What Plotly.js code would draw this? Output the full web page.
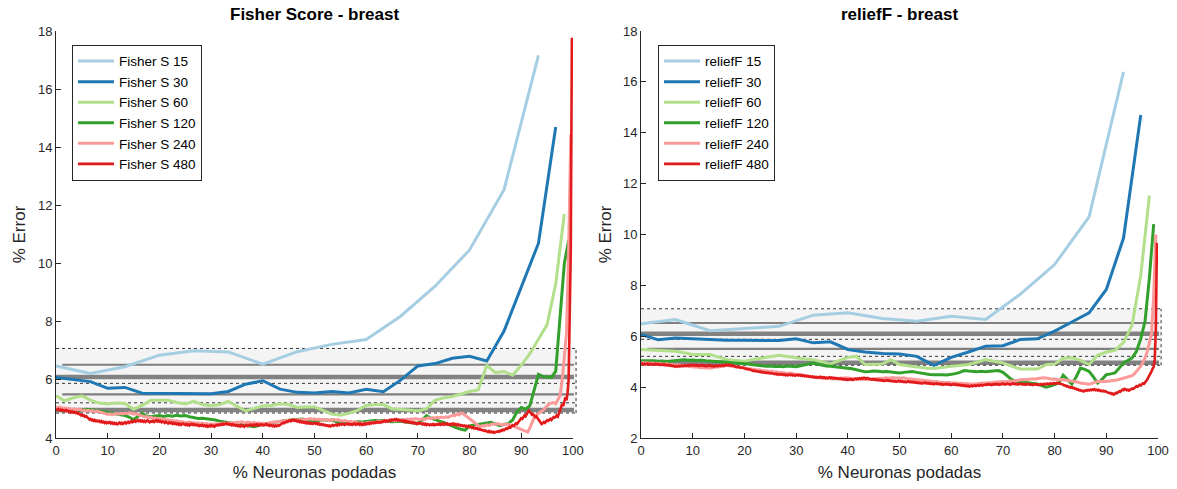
<!DOCTYPE html>
<html><head><meta charset="utf-8">
<script src="https://cdn.plot.ly/plotly-3.0.1.min.js"></script>
<style>html,body{margin:0;padding:0;background:#fff}#chart{width:1177px;height:489px}</style>
</head><body><div id="chart"></div>
<script>
// ---------- data: Fisher Score ----------
const fisher15 = [6.48,6.22,6.45,6.85,7.00,6.96,6.54,6.97,7.22,7.39,8.19,9.22,10.47,12.54,17.16];
const fisher30 = [6.08,6.01,5.94,5.71,5.74,5.54,5.53,5.52,5.52,5.52,5.60,5.85,5.97,5.68,5.57,5.55,5.60,5.55,5.68,5.59,5.99,6.48,6.56,6.74,6.81,6.65,7.68,9.20,10.70,14.70];
const fisher60 = [5.45,5.28,5.38,5.45,5.30,5.20,5.17,5.20,5.19,4.99,
 5.12,5.30,5.30,5.30,5.22,5.17,5.26,5.15,5.11,5.15,
 5.26,5.08,4.93,5.02,5.10,5.12,5.18,5.15,5.05,5.07,
 5.07,4.95,4.82,4.78,4.85,4.95,5.12,5.15,5.15,5.00,
 4.99,4.96,4.94,5.00,5.30,5.38,5.43,5.52,5.60,5.65,
 6.50,6.25,6.29,6.16,6.50,6.90,7.40,7.90,9.30,11.71];
const fisher120 = [4.99,4.97,4.95,4.97,4.96,4.94,4.97,4.99,4.97,4.94,
 4.92,4.90,4.88,4.86,4.83,4.80,4.77,4.72,4.63,4.75,
 4.85,4.76,4.73,4.76,4.77,4.74,4.77,4.75,4.78,4.76,
 4.77,4.73,4.70,4.67,4.68,4.66,4.65,4.62,4.58,4.56,
 4.54,4.52,4.50,4.47,4.44,4.41,4.39,4.43,4.48,4.50,
 4.53,4.55,4.57,4.59,4.60,4.62,4.64,4.65,4.63,4.60,
 4.57,4.60,4.63,4.61,4.62,4.56,4.50,4.53,4.55,4.53,
 4.56,4.55,4.57,4.58,4.60,4.59,4.60,4.58,4.56,4.57,
 4.58,4.55,4.53,4.51,4.50,4.62,4.77,4.68,4.62,4.58,
 4.54,4.47,4.40,4.35,4.30,4.27,4.42,4.45,4.48,4.50,
 4.52,4.54,4.47,4.42,4.46,4.50,4.62,4.90,5.05,4.99,
 5.11,5.68,6.19,6.12,6.10,6.08,6.30,8.00,10.00,10.80];
const fisher240 = [5.07,5.04,5.06,5.02,5.03,5.00,5.02,4.98,5.00,4.99,
 4.97,4.99,4.95,4.96,4.93,4.95,4.92,4.94,4.91,4.93,
 4.90,4.88,4.86,4.84,4.81,4.83,4.80,4.82,4.84,4.82,
 4.85,4.83,4.86,4.84,4.87,4.85,4.82,4.84,4.80,4.78,
 4.76,4.73,4.74,4.70,4.72,4.68,4.69,4.66,4.67,4.64,
 4.65,4.62,4.63,4.60,4.61,4.58,4.59,4.56,4.57,4.55,
 4.54,4.52,4.55,4.51,4.53,4.50,4.52,4.49,4.51,4.48,
 4.50,4.47,4.49,4.46,4.49,4.47,4.50,4.48,4.51,4.49,
 4.52,4.50,4.53,4.51,4.55,4.53,4.56,4.54,4.52,4.55,
 4.53,4.51,4.54,4.50,4.52,4.49,4.51,4.48,4.50,4.52,
 4.53,4.55,4.54,4.57,4.56,4.59,4.58,4.61,4.59,4.62,
 4.60,4.63,4.61,4.64,4.62,4.66,4.63,4.65,4.67,4.64,
 4.66,4.63,4.65,4.62,4.64,4.61,4.63,4.60,4.62,4.64,
 4.61,4.63,4.60,4.58,4.60,4.57,4.55,4.57,4.54,4.56,
 4.53,4.50,4.52,4.49,4.51,4.54,4.52,4.55,4.53,4.56,
 4.58,4.56,4.59,4.61,4.58,4.60,4.62,4.59,4.61,4.63,
 4.61,4.64,4.62,4.65,4.63,4.66,4.64,4.67,4.65,4.63,
 4.66,4.64,4.67,4.69,4.66,4.70,4.68,4.71,4.69,4.72,
 4.70,4.73,4.71,4.75,4.78,4.76,4.82,4.79,4.86,4.83,
 4.78,4.70,4.65,4.60,4.55,4.48,4.42,4.39,4.43,4.41,
 4.45,4.43,4.47,4.49,4.46,4.50,4.47,4.45,4.48,4.46,
 4.48,4.45,4.42,4.38,4.35,4.32,4.30,4.26,4.22,4.20,
 4.35,4.55,4.70,4.78,4.85,4.90,4.94,5.02,5.10,5.18,
 5.20,5.22,5.18,5.30,5.45,6.00,6.80,7.60,10.50,14.45];
const fisher480 = [4.99,4.97,5.00,4.96,4.98,4.94,4.97,4.95,4.93,4.96,
 4.92,4.94,4.90,4.92,4.88,4.91,4.87,4.89,4.86,4.88,
 4.84,4.86,4.81,4.78,4.80,4.76,4.78,4.73,4.75,4.71,
 4.68,4.64,4.66,4.61,4.63,4.59,4.62,4.58,4.60,4.57,
 4.59,4.55,4.58,4.54,4.56,4.52,4.55,4.51,4.54,4.52,
 4.55,4.50,4.53,4.49,4.52,4.48,4.51,4.47,4.50,4.53,
 4.49,4.52,4.48,4.51,4.54,4.50,4.53,4.56,4.52,4.55,
 4.58,4.54,4.57,4.60,4.56,4.59,4.62,4.58,4.61,4.57,
 4.60,4.56,4.59,4.55,4.58,4.61,4.57,4.54,4.58,4.56,
 4.59,4.55,4.58,4.61,4.57,4.60,4.56,4.58,4.54,4.57,
 4.55,4.52,4.56,4.53,4.50,4.54,4.51,4.53,4.49,4.52,
 4.48,4.51,4.47,4.50,4.46,4.49,4.45,4.48,4.50,4.47,
 4.45,4.48,4.44,4.47,4.43,4.46,4.49,4.45,4.47,4.44,
 4.46,4.43,4.45,4.41,4.44,4.42,4.45,4.41,4.43,4.40,
 4.43,4.39,4.42,4.40,4.44,4.41,4.43,4.39,4.42,4.45,
 4.43,4.46,4.44,4.47,4.45,4.49,4.46,4.48,4.51,4.47,
 4.49,4.46,4.48,4.44,4.47,4.43,4.45,4.42,4.44,4.41,
 4.43,4.40,4.44,4.41,4.43,4.39,4.42,4.45,4.41,4.43,
 4.46,4.43,4.45,4.42,4.46,4.44,4.47,4.43,4.46,4.44,
 4.47,4.44,4.46,4.43,4.45,4.48,4.44,4.46,4.42,4.45,
 4.43,4.41,4.44,4.40,4.43,4.41,4.44,4.42,4.45,4.48,
 4.50,4.53,4.51,4.55,4.57,4.55,4.59,4.61,4.58,4.62,
 4.60,4.63,4.59,4.61,4.57,4.59,4.55,4.58,4.54,4.56,
 4.53,4.55,4.51,4.54,4.50,4.52,4.49,4.51,4.48,4.50,
 4.52,4.49,4.51,4.47,4.50,4.46,4.48,4.45,4.47,4.44,
 4.45,4.42,4.44,4.41,4.43,4.40,4.43,4.45,4.42,4.44,
 4.46,4.43,4.47,4.45,4.48,4.46,4.49,4.47,4.45,4.48,
 4.50,4.47,4.49,4.46,4.48,4.45,4.47,4.50,4.46,4.49,
 4.47,4.50,4.46,4.49,4.45,4.48,4.46,4.50,4.47,4.49,
 4.51,4.48,4.52,4.50,4.53,4.51,4.54,4.52,4.55,4.53,
 4.55,4.53,4.56,4.54,4.57,4.60,4.56,4.59,4.57,4.60,
 4.62,4.59,4.63,4.61,4.64,4.62,4.65,4.61,4.63,4.60,
 4.61,4.58,4.60,4.56,4.59,4.55,4.57,4.54,4.56,4.53,
 4.55,4.51,4.53,4.50,4.52,4.48,4.51,4.49,4.52,4.50,
 4.47,4.50,4.46,4.49,4.45,4.48,4.46,4.44,4.47,4.45,
 4.48,4.44,4.47,4.45,4.48,4.46,4.49,4.45,4.47,4.50,
 4.46,4.49,4.47,4.50,4.46,4.48,4.45,4.49,4.47,4.50,
 4.46,4.48,4.44,4.47,4.43,4.45,4.42,4.44,4.41,4.43,
 4.40,4.42,4.38,4.41,4.37,4.39,4.35,4.37,4.33,4.35,
 4.32,4.34,4.30,4.31,4.28,4.29,4.26,4.27,4.24,4.26,
 4.23,4.21,4.24,4.20,4.22,4.19,4.21,4.18,4.20,4.22,
 4.21,4.24,4.22,4.26,4.25,4.29,4.27,4.31,4.33,4.31,
 4.35,4.38,4.36,4.41,4.44,4.42,4.47,4.50,4.48,4.53,
 4.56,4.62,4.68,4.66,4.72,4.78,4.75,4.83,4.88,4.94,
 4.90,4.85,4.80,4.82,4.76,4.72,4.74,4.68,4.62,4.58,
 4.52,4.48,4.51,4.55,4.52,4.58,4.61,4.59,4.64,4.66,
 4.62,4.68,4.72,4.70,4.76,4.78,4.74,4.85,4.95,5.08,
 5.17,5.10,5.25,5.40,5.30,5.55,6.00,7.70,10.50,17.77];

// ---------- data: reliefF ----------
const relief15 = [6.49,6.66,6.22,6.30,6.39,6.83,6.92,6.70,6.59,6.79,6.66,7.65,8.82,10.69,16.39];
const relief30 = [6.07,5.86,5.93,5.90,5.87,5.84,5.84,5.83,5.83,5.90,5.74,5.78,5.48,5.38,5.32,5.30,5.21,4.86,5.17,5.38,5.61,5.63,5.87,5.90,6.20,6.56,6.92,7.84,9.86,14.70];
const relief60 = [5.48,5.46,5.44,5.43,5.41,5.35,5.28,5.28,5.28,5.18,
 5.08,5.05,5.02,5.09,5.15,5.20,5.25,5.20,5.15,5.11,
 5.08,5.00,4.91,5.04,5.17,5.21,4.89,4.90,4.91,5.08,
 4.89,4.84,4.78,4.75,4.73,4.78,4.82,4.85,4.89,4.98,
 5.08,5.02,4.95,4.83,4.71,4.71,4.71,4.88,4.91,5.14,
 5.15,5.05,4.89,5.25,5.38,5.45,5.75,6.45,8.40,11.53];
const relief120 = [5.04,5.05,5.03,5.04,5.02,5.03,5.01,5.03,5.05,5.07,
 5.08,5.06,5.07,5.05,5.06,5.04,5.03,5.01,5.02,4.99,
 4.98,4.96,4.95,4.94,4.92,4.91,4.88,4.86,4.84,4.82,
 4.83,4.81,4.82,4.80,4.83,4.82,4.80,4.84,4.88,4.92,
 4.95,4.90,4.86,4.83,4.82,4.80,4.78,4.76,4.75,4.72,
 4.68,4.64,4.60,4.61,4.63,4.62,4.60,4.61,4.59,4.57,
 4.56,4.58,4.60,4.61,4.58,4.55,4.52,4.50,4.49,4.50,
 4.49,4.48,4.50,4.53,4.58,4.65,4.63,4.61,4.60,4.62,
 4.60,4.62,4.64,4.65,4.58,4.45,4.30,4.23,4.21,4.19,
 4.17,4.16,4.12,4.06,4.00,4.04,4.10,4.16,4.47,4.30,
 4.12,4.40,4.75,4.70,4.62,4.40,4.16,4.30,4.49,4.52,
 4.56,4.75,4.95,5.05,5.15,5.41,5.90,6.60,8.30,10.41];
const relief240 = [4.95,4.97,4.94,4.96,4.93,4.95,4.92,4.94,4.91,4.93,
 4.91,4.89,4.92,4.88,4.90,4.87,4.86,4.88,4.85,4.86,
 4.83,4.85,4.81,4.82,4.79,4.80,4.78,4.79,4.76,4.77,
 4.75,4.77,4.74,4.76,4.78,4.80,4.79,4.83,4.81,4.85,
 4.86,4.84,4.82,4.83,4.80,4.78,4.79,4.76,4.75,4.73,
 4.71,4.72,4.69,4.70,4.67,4.68,4.65,4.64,4.62,4.63,
 4.61,4.62,4.59,4.60,4.57,4.58,4.56,4.57,4.54,4.55,
 4.53,4.51,4.52,4.49,4.50,4.47,4.46,4.44,4.42,4.41,
 4.39,4.37,4.38,4.35,4.36,4.34,4.35,4.33,4.34,4.32,
 4.33,4.35,4.34,4.36,4.35,4.37,4.36,4.35,4.36,4.34,
 4.33,4.31,4.32,4.30,4.31,4.29,4.31,4.30,4.32,4.34,
 4.33,4.35,4.34,4.36,4.37,4.35,4.36,4.38,4.36,4.37,
 4.36,4.35,4.37,4.34,4.33,4.32,4.33,4.31,4.30,4.31,
 4.29,4.28,4.26,4.27,4.24,4.23,4.21,4.22,4.20,4.19,
 4.20,4.18,4.17,4.19,4.16,4.17,4.15,4.16,4.14,4.15,
 4.13,4.14,4.12,4.13,4.11,4.12,4.14,4.13,4.15,4.16,
 4.15,4.17,4.16,4.18,4.19,4.18,4.20,4.21,4.22,4.21,
 4.23,4.24,4.23,4.25,4.27,4.26,4.28,4.30,4.29,4.31,
 4.30,4.32,4.33,4.31,4.34,4.36,4.35,4.37,4.36,4.34,
 4.33,4.31,4.32,4.30,4.29,4.30,4.28,4.29,4.27,4.25,
 4.24,4.23,4.21,4.19,4.16,4.14,4.12,4.10,4.11,4.14,
 4.18,4.21,4.23,4.22,4.24,4.23,4.22,4.24,4.23,4.25,
 4.27,4.28,4.30,4.32,4.34,4.36,4.38,4.41,4.45,4.52,
 4.62,4.70,4.82,4.98,5.15,5.40,5.75,6.10,7.60,10.00];
const relief480 = [4.91,4.93,4.90,4.92,4.89,4.91,4.93,4.90,4.92,4.89,
 4.91,4.88,4.90,4.92,4.89,4.91,4.88,4.90,4.87,4.89,
 4.90,4.87,4.89,4.86,4.88,4.85,4.87,4.84,4.86,4.83,
 4.84,4.81,4.83,4.80,4.82,4.84,4.81,4.83,4.85,4.82,
 4.84,4.86,4.83,4.85,4.87,4.84,4.86,4.88,4.85,4.87,
 4.85,4.87,4.84,4.86,4.83,4.85,4.87,4.84,4.86,4.83,
 4.85,4.82,4.84,4.86,4.83,4.85,4.82,4.84,4.81,4.83,
 4.85,4.82,4.84,4.86,4.83,4.85,4.87,4.84,4.86,4.88,
 4.86,4.88,4.85,4.87,4.84,4.86,4.83,4.81,4.82,4.79,
 4.80,4.78,4.79,4.76,4.77,4.75,4.76,4.73,4.71,4.72,
 4.69,4.70,4.67,4.66,4.64,4.65,4.62,4.63,4.61,4.62,
 4.60,4.61,4.58,4.59,4.57,4.58,4.56,4.57,4.55,4.56,
 4.54,4.55,4.53,4.54,4.51,4.53,4.50,4.52,4.49,4.51,
 4.49,4.51,4.48,4.50,4.47,4.49,4.46,4.48,4.50,4.47,
 4.49,4.46,4.48,4.45,4.47,4.49,4.46,4.48,4.45,4.47,
 4.44,4.46,4.43,4.45,4.42,4.44,4.41,4.43,4.40,4.42,
 4.39,4.41,4.38,4.40,4.37,4.39,4.41,4.38,4.40,4.37,
 4.39,4.36,4.38,4.35,4.37,4.39,4.36,4.38,4.35,4.37,
 4.34,4.36,4.33,4.35,4.32,4.34,4.31,4.33,4.30,4.32,
 4.29,4.31,4.28,4.30,4.32,4.29,4.31,4.28,4.30,4.33,
 4.31,4.34,4.32,4.35,4.33,4.36,4.34,4.37,4.35,4.33,
 4.36,4.34,4.32,4.33,4.30,4.32,4.29,4.31,4.28,4.30,
 4.27,4.29,4.26,4.28,4.25,4.27,4.24,4.26,4.28,4.25,
 4.27,4.24,4.26,4.23,4.25,4.22,4.24,4.21,4.23,4.25,
 4.22,4.24,4.21,4.23,4.20,4.22,4.19,4.21,4.23,4.20,
 4.22,4.19,4.21,4.18,4.20,4.17,4.19,4.16,4.18,4.15,
 4.17,4.14,4.16,4.18,4.15,4.17,4.14,4.16,4.13,4.15,
 4.12,4.14,4.11,4.13,4.15,4.12,4.14,4.11,4.13,4.10,
 4.12,4.09,4.11,4.13,4.10,4.12,4.09,4.11,4.08,4.10,
 4.12,4.09,4.11,4.08,4.10,4.07,4.09,4.06,4.08,4.05,
 4.07,4.04,4.06,4.03,4.05,4.02,4.04,4.06,4.03,4.05,
 4.07,4.04,4.06,4.08,4.05,4.07,4.09,4.06,4.08,4.10,
 4.08,4.11,4.09,4.12,4.10,4.08,4.11,4.09,4.12,4.10,
 4.13,4.10,4.12,4.09,4.11,4.14,4.11,4.13,4.10,4.12,
 4.14,4.11,4.13,4.10,4.12,4.15,4.12,4.14,4.11,4.13,
 4.10,4.12,4.14,4.11,4.13,4.10,4.12,4.09,4.11,4.13,
 4.10,4.12,4.09,4.11,4.08,4.10,4.12,4.09,4.11,4.08,
 4.10,4.12,4.09,4.11,4.13,4.10,4.12,4.14,4.11,4.13,
 4.15,4.12,4.14,4.16,4.13,4.15,4.17,4.14,4.16,4.13,
 4.12,4.09,4.10,4.06,4.07,4.03,4.04,4.00,4.01,3.98,
 4.00,3.96,3.97,3.93,3.94,3.90,3.91,3.87,3.88,3.85,
 3.86,3.83,3.85,3.88,3.86,3.89,3.87,3.90,3.88,3.91,
 3.89,3.92,3.88,3.90,3.87,3.89,3.85,3.87,3.84,3.86,
 3.83,3.85,3.81,3.79,3.80,3.76,3.77,3.73,3.75,3.71,
 3.74,3.78,3.76,3.81,3.84,3.82,3.87,3.90,3.88,3.93,
 3.91,3.88,3.90,3.86,3.89,3.92,3.95,3.93,3.98,4.02,
 4.04,4.01,4.06,4.09,4.07,4.12,4.15,4.13,4.18,4.22,
 4.30,4.38,4.45,4.55,4.62,4.72,4.80,5.10,6.30,9.67];

// ---------- reference bands (same baseline in both panels) ----------
const bandRange  = [4.86, 7.08];
const bandDotted = [7.08, 5.88, 5.21, 4.86];
const bandThin   = [6.52, 5.50];
const bandThick  = [6.10, 4.96];

const leftNames  = ['Fisher S 15','Fisher S 30','Fisher S 60','Fisher S 120','Fisher S 240','Fisher S 480'];
const rightNames = ['reliefF 15','reliefF 30','reliefF 60','reliefF 120','reliefF 240','reliefF 480'];
const leftTitle = 'Fisher Score - breast';
const rightTitle = 'reliefF - breast';
const xTitle = '% Neuronas podadas';
const yTitle = '% Error';
const xTicks = [0,10,20,30,40,50,60,70,80,90,100];

const colors = ['#a6cee3','#1f78b4','#b2df8a','#33a02c','#fb9a99','#e31a1c'];
const widths = [3,3,3,3,3,2.6];

const leftData  = [fisher15, fisher30, fisher60, fisher120, fisher240, fisher480];
const rightData = [relief15, relief30, relief60, relief120, relief240, relief480];

function xsFor(arr){ const n = arr.length; return arr.map((_, i) => i * 100 / n); }

const font = 'Liberation Sans, Arial, Helvetica, sans-serif';
const traces = [];
leftData.forEach((d, k) => traces.push({
  x: xsFor(d), y: d, type: 'scatter', mode: 'lines', name: leftNames[k],
  line: {color: colors[k], width: widths[k]}, xaxis: 'x', yaxis: 'y', legend: 'legend'
}));
rightData.forEach((d, k) => traces.push({
  x: xsFor(d), y: d, type: 'scatter', mode: 'lines', name: rightNames[k],
  line: {color: colors[k], width: widths[k]}, xaxis: 'x2', yaxis: 'y2', legend: 'legend2'
}));

const domL = [0, 0.4691], domR = [0.5309, 1];
function px(dom, v){ return dom[0] + v / 100 * (dom[1] - dom[0]); }

const shapes = [];
[[domL,'y'],[domR,'y2']].forEach(([dom, yr]) => {
  shapes.push({type:'rect', xref:'paper', yref:yr, x0:px(dom,0), x1:px(dom,100.6), y0:bandRange[0], y1:bandRange[1],
    fillcolor:'#f4f4f4', line:{width:0}, layer:'below'});
  bandThin.forEach(v => shapes.push({type:'line', xref:'paper', yref:yr, x0:px(dom,1.2), x1:px(dom,100.2), y0:v, y1:v,
    line:{color:'#7f7f7f', width:2.2}, layer:'below'}));
  bandThick.forEach(v => shapes.push({type:'line', xref:'paper', yref:yr, x0:px(dom,0), x1:px(dom,100.2), y0:v, y1:v,
    line:{color:'#828282', width:4.5}, layer:'below'}));
  bandDotted.forEach(v => shapes.push({type:'line', xref:'paper', yref:yr, x0:px(dom,0), x1:px(dom,100.6), y0:v, y1:v,
    line:{color:'#333', width:1, dash:'dot'}, layer:'below'}));
  shapes.push({type:'line', xref:'paper', yref:yr, x0:px(dom,100.6), x1:px(dom,100.6), y0:bandRange[0], y1:bandRange[1],
    line:{color:'#333', width:1, dash:'dot'}, layer:'below'});
});

function xaxis(dom, anchor){
  return {domain: dom, anchor: anchor, range: [0, 100], tickvals: xTicks, ticks: 'inside', ticklen: 5,
    tickcolor: '#262626', showline: true, linecolor: '#262626', linewidth: 1, showgrid: false, zeroline: false,
    tickfont: {family: font, size: 13, color: '#262626'},
    title: {text: xTitle, font: {family: font, size: 17, color: '#262626'}, standoff: 9}};
}
function yaxis(range, anchor){
  const tv = []; for (let v = range[0]; v <= range[1]; v += 2) tv.push(v);
  return {anchor: anchor, range: range, tickvals: tv, ticks: 'inside', ticklen: 5, tickcolor: '#262626',
    showline: true, linecolor: '#262626', linewidth: 1, showgrid: false, zeroline: false,
    tickfont: {family: font, size: 13, color: '#262626'},
    title: {text: yTitle, font: {family: font, size: 17, color: '#262626'}, standoff: 7}};
}

const legendBase = {bgcolor: '#fff', bordercolor: '#262626', borderwidth: 1, font: {family: font, size: 13.5, color: '#000'},
  xanchor: 'left', yanchor: 'top', tracegroupgap: 0, itemwidth: 36};

const layout = {
  width: 1177, height: 489, margin: {l: 56, r: 19, t: 31, b: 51},
  paper_bgcolor: '#fff', plot_bgcolor: '#fff', font: {family: font},
  xaxis: xaxis(domL, 'y'), yaxis: yaxis([4, 18], 'x'),
  xaxis2: xaxis(domR, 'y2'), yaxis2: yaxis([2, 18], 'x2'),
  legend: Object.assign({x: 0.0145, y: 0.966}, legendBase),
  legend2: Object.assign({x: 0.5463, y: 0.966}, legendBase),
  shapes: shapes,
  annotations: [
    {text: '<b>' + leftTitle + '</b>', xref: 'paper', yref: 'paper', x: (domL[0]+domL[1])/2, y: 1, xanchor: 'center', yanchor: 'bottom', yshift: 5,
     showarrow: false, font: {family: font, size: 17, color: '#000'}},
    {text: '<b>' + rightTitle + '</b>', xref: 'paper', yref: 'paper', x: (domR[0]+domR[1])/2, y: 1, xanchor: 'center', yanchor: 'bottom', yshift: 5,
     showarrow: false, font: {family: font, size: 17, color: '#000'}}
  ],
  showlegend: true
};

Plotly.newPlot('chart', traces, layout, {displayModeBar: false, staticPlot: true});
</script></body></html>
